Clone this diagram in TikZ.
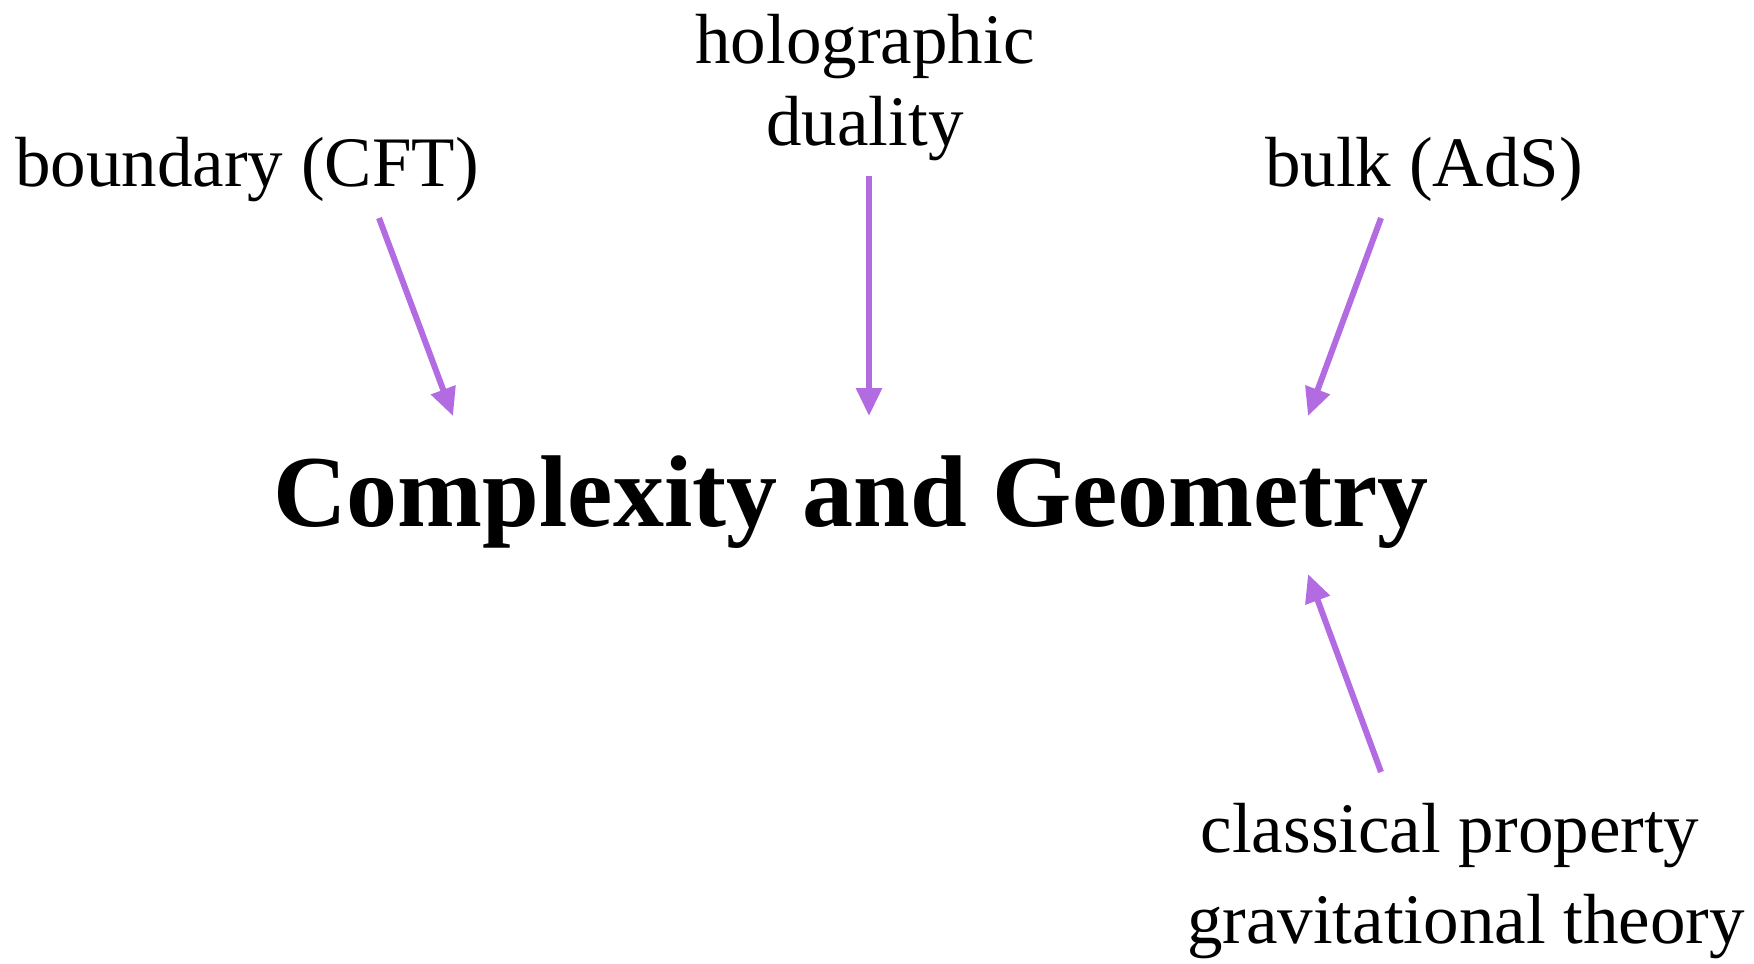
\documentclass[tikz,border=0pt]{standalone}
\usepackage{fontspec}
\setmainfont{Liberation Serif}
\usetikzlibrary{arrows.meta}
\definecolor{arrowpurple}{RGB}{179,107,226}
\tikzset{
  lbl/.style={anchor=base, inner sep=0pt, font=\fontsize{35.5}{44}\selectfont},
  ttl/.style={anchor=base, inner sep=0pt, font=\fontsize{51}{60}\selectfont\bfseries},
  conn/.style={draw=arrowpurple, line width=3pt, -{Triangle[width=12.5pt,length=14pt]}}
}
\begin{document}
\begin{tikzpicture}[x=0.5pt,y=-0.5pt]
\useasboundingbox (0,0) rectangle (1754,963);
\node[lbl] (bnd) at (247,186) {boundary (CFT)};
\node[lbl] (holo1) at (865,64) {holographic};
\node[lbl] (holo2) at (865,145) {duality};
\node[lbl] (bulk) at (1424,186) {bulk (AdS)};
\node[ttl] (title) at (851,526) {Complexity and Geometry};
\node[lbl] (cls1) at (1450,852) {classical property};
\node[lbl] (cls2) at (1466,943) {gravitational theory};
\coordinate (a1s) at (379,218);
\coordinate (a1e) at (453,416);
\coordinate (a2s) at (869,176);
\coordinate (a2e) at (869,416);
\coordinate (a3s) at (1381,218);
\coordinate (a3e) at (1308,416);
\coordinate (a4s) at (1381,772);
\coordinate (a4e) at (1308,574);
\draw[conn] (a1s) -- (a1e);
\draw[conn] (a2s) -- (a2e);
\draw[conn] (a3s) -- (a3e);
\draw[conn] (a4s) -- (a4e);
\end{tikzpicture}
\end{document}
